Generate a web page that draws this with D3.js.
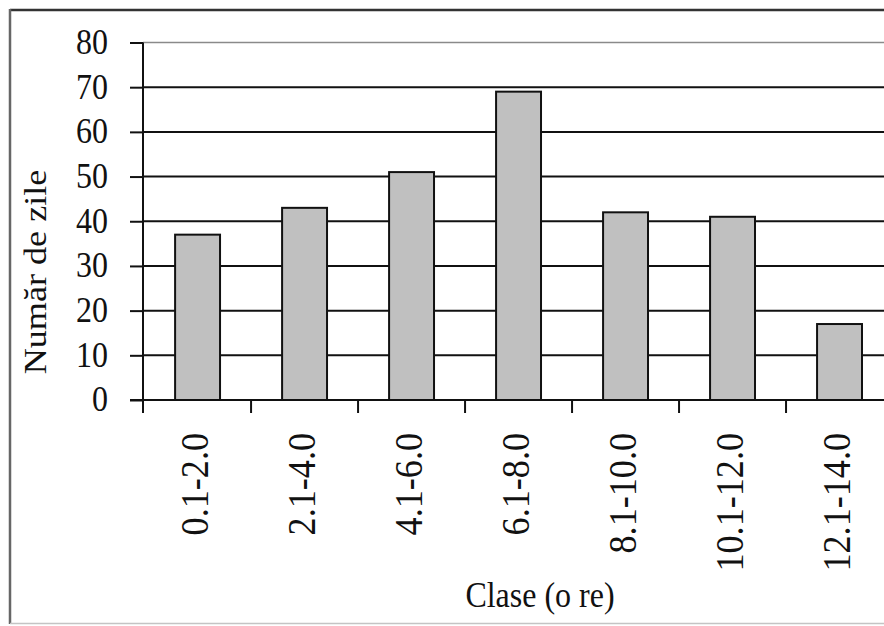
<!DOCTYPE html>
<html>
<head>
<meta charset="utf-8">
<script src="https://cdn.jsdelivr.net/npm/d3@7"></script>
<style>
  html, body { margin: 0; padding: 0; background: #fff; overflow: hidden; }
  svg { display: block; }
  text { font-family: "Liberation Serif", "Times New Roman", serif; fill: #111; }
</style>
</head>
<body>
<svg id="chart" width="884" height="626"></svg>
<script>
// Distribution of days by sunshine-duration class
const categories = ["0.1-2.0", "2.1-4.0", "4.1-6.0", "6.1-8.0", "8.1-10.0", "10.1-12.0", "12.1-14.0"];
const values = [37, 43, 51, 69, 42, 41, 17];
const yTicks = [0, 10, 20, 30, 40, 50, 60, 70, 80];
const yTitle = "Număr de zile";
const xTitle = "Clase (o re)";

const svg = d3.select("#chart");
const W = 884, H = 626;
const plotLeft = 143, plotTop = 42.5, plotBottom = 400, step = 107.3;
const plotRight = plotLeft + step * categories.length;
const stretch = "scale(1,1.13)";

// outer frame
svg.append("line").attr("x1", 10).attr("x2", W).attr("y1", 10).attr("y2", 10)
  .attr("stroke", "#333").attr("stroke-width", 2.5);
svg.append("line").attr("x1", 10).attr("x2", 10).attr("y1", 9).attr("y2", 624)
  .attr("stroke", "#666").attr("stroke-width", 2.5);
svg.append("line").attr("x1", 10).attr("x2", W).attr("y1", 623.5).attr("y2", 623.5)
  .attr("stroke", "#c4c4c4").attr("stroke-width", 1.5);

const x = d3.scaleBand().domain(categories).range([plotLeft, plotRight])
  .paddingInner(0.58).paddingOuter(0.3);
const y = d3.scaleLinear().domain([0, 80]).range([plotBottom, plotTop]);

// horizontal gridlines
svg.append("g").selectAll("line").data(yTicks.filter(d => d > 0)).join("line")
  .attr("x1", plotLeft).attr("x2", plotRight)
  .attr("y1", d => y(d)).attr("y2", d => y(d))
  .attr("stroke", d => d === 80 ? "#8a8a8a" : "#111")
  .attr("stroke-width", d => d === 80 ? 1.5 : 2);

// bars
svg.append("g").selectAll("rect").data(values).join("rect")
  .attr("x", (d, i) => x(categories[i]))
  .attr("y", d => y(d))
  .attr("width", x.bandwidth())
  .attr("height", d => y(0) - y(d))
  .attr("fill", "#c0c0c0")
  .attr("stroke", "#111")
  .attr("stroke-width", 2);

// y axis
const yAxis = svg.append("g").attr("transform", `translate(${plotLeft},0)`)
  .call(d3.axisLeft(y).tickValues(yTicks).tickSize(13).tickSizeOuter(0).tickPadding(22));
yAxis.select(".domain").remove();
yAxis.selectAll(".tick line").attr("stroke", "#111").attr("stroke-width", 2);
yAxis.selectAll(".tick text")
  .attr("font-size", 32).attr("dy", "0.3em")
  .attr("transform", stretch)
  .style("font-family", "'Liberation Serif', serif").attr("fill", "#111");
svg.append("line").attr("x1", plotLeft).attr("x2", plotLeft).attr("y1", plotTop).attr("y2", plotBottom + 13)
  .attr("stroke", "#111").attr("stroke-width", 2);

// x axis baseline and class-boundary ticks
svg.append("line").attr("x1", plotLeft - 13).attr("x2", plotRight).attr("y1", plotBottom).attr("y2", plotBottom)
  .attr("stroke", "#111").attr("stroke-width", 2);
const gap = (x.step() - x.bandwidth()) / 2;
const bounds = categories.slice(1).map(c => x(c) - gap).concat([plotRight]);
svg.append("g").selectAll("line").data(bounds).join("line")
  .attr("x1", d => d).attr("x2", d => d).attr("y1", plotBottom).attr("y2", plotBottom + 13)
  .attr("stroke", "#111").attr("stroke-width", 2);

// category labels (rotated)
const xAxis = svg.append("g").attr("transform", `translate(0,${plotBottom})`)
  .call(d3.axisBottom(x).tickSize(0).tickSizeOuter(0));
xAxis.select(".domain").remove();
xAxis.selectAll(".tick text")
  .attr("font-size", 32)
  .attr("text-anchor", "end")
  .attr("x", 0).attr("y", 0).attr("dy", 0)
  .attr("transform", "translate(10,33) scale(1.25,1.13) rotate(-90)")
  .style("font-family", "'Liberation Serif', serif").attr("fill", "#111");

// axis titles
svg.append("text").attr("font-size", 32).attr("text-anchor", "middle")
  .attr("transform", `translate(540,607) ${stretch}`).text(xTitle);
svg.append("text").attr("font-size", 32).attr("text-anchor", "middle")
  .attr("transform", `translate(46,272) ${stretch} rotate(-90)`).text(yTitle);
</script>
</body>
</html>
